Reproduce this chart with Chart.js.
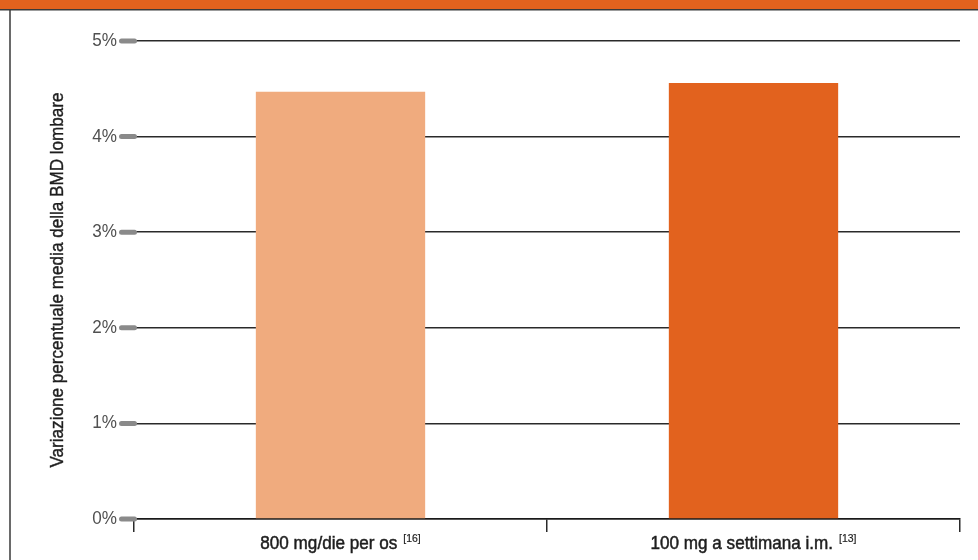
<!DOCTYPE html>
<html lang="it">
<head>
<meta charset="utf-8">
<title>Variazione percentuale media della BMD lombare</title>
<script src="https://cdn.jsdelivr.net/npm/chart.js@4.4.1/dist/chart.umd.min.js"></script>
<style>
  html, body { margin: 0; padding: 0; background: #ffffff; }
  #wrap { width: 978px; height: 560px; position: relative; }
</style>
</head>
<body>
<div id="wrap"><canvas id="bmd" width="978" height="560"></canvas></div>
<script>
// Dosing regimens on the x axis, with their bibliography references
const categories = ['800 mg/die per os', '100 mg a settimana i.m.'];
const references = ['[16]', '[13]'];
// Mean percent change of lumbar BMD
const bmdChange = [4.47, 4.56];
const barColors = ['#F0AB7E', '#E2621E'];
// Y axis range and step (percent)
const yMin = 0;
const yMax = 5;
const yStep = 1;
const yTitle = 'Variazione percentuale media della BMD lombare';

const FONT = '"Liberation Sans", Arial, sans-serif';
const NARROW = 0.95; // horizontal squeeze giving a condensed grotesque look

// Draw text squeezed horizontally (along its own direction); optional
// thin outline gives a medium weight
function narrowText(ctx, text, x, y, align, font, angle, weight) {
  ctx.save();
  ctx.font = font;
  ctx.translate(x, y);
  if (angle) ctx.rotate(angle);
  ctx.scale(NARROW, 1);
  const w = ctx.measureText(text).width;
  let dx = 0;
  if (align === 'center') dx = -w / 2;
  else if (align === 'right') dx = -w;
  ctx.textAlign = 'left';
  ctx.fillText(text, dx, 0);
  if (weight) {
    ctx.strokeStyle = ctx.fillStyle;
    ctx.lineWidth = weight;
    ctx.strokeText(text, dx, 0);
  }
  ctx.restore();
  return w * NARROW;
}

// Orange header band and the thin frame on the left
const framePlugin = {
  id: 'frame',
  beforeDraw(chart) {
    const ctx = chart.ctx;
    ctx.save();
    ctx.fillStyle = '#E2621E';
    ctx.fillRect(0, 0, chart.width, 9);
    ctx.strokeStyle = '#3a3a3a';
    ctx.lineWidth = 1.5;
    ctx.beginPath();
    ctx.moveTo(0, 9.75);
    ctx.lineTo(chart.width, 9.75);
    ctx.moveTo(10, 9);
    ctx.lineTo(10, chart.height);
    ctx.stroke();
    ctx.restore();
  }
};

// Y tick marks and labels, axis title, category labels with superscript references
const axisDecorPlugin = {
  id: 'axisDecor',
  afterDraw(chart) {
    const ctx = chart.ctx;
    const y = chart.scales.y;
    const x = chart.scales.x;
    ctx.save();
    ctx.textBaseline = 'middle';
    y.ticks.forEach((t, i) => {
      const py = y.getPixelForTick(i);
      ctx.strokeStyle = '#8a8a8a';
      ctx.lineWidth = 5;
      ctx.lineCap = 'round';
      ctx.beginPath();
      ctx.moveTo(121.5, py);
      ctx.lineTo(134.5, py);
      ctx.stroke();
      ctx.fillStyle = '#505050';
      narrowText(ctx, t.value + '%', 117, py, 'right', '18px ' + FONT);
    });

    // rotated y axis title, centred on the plot height
    ctx.fillStyle = '#1e1e1e';
    ctx.textBaseline = 'alphabetic';
    narrowText(ctx, yTitle, 63, (chart.chartArea.top + chart.chartArea.bottom) / 2,
      'center', '18px ' + FONT, -Math.PI / 2, 0.4);

    const mainFont = '18px ' + FONT;
    const supFont = '11px ' + FONT;
    const baseY = x.top + 29.5;
    categories.forEach((label, i) => {
      const cx = x.getPixelForValue(i);
      ctx.font = mainFont;
      const wMain = ctx.measureText(label).width * NARROW + 6;
      ctx.font = supFont;
      const wSup = ctx.measureText(references[i]).width * NARROW;
      const start = cx - (wMain + wSup) / 2;
      narrowText(ctx, label, start, baseY, 'left', mainFont, 0, 0.5);
      narrowText(ctx, references[i], start + wMain, baseY - 7, 'left', supFont, 0, 0.2);
    });
    ctx.restore();
  }
};

new Chart(document.getElementById('bmd'), {
  type: 'bar',
  data: {
    labels: categories,
    datasets: [{
      data: bmdChange,
      backgroundColor: barColors,
      borderWidth: 0,
      categoryPercentage: 1,
      barPercentage: 0.41
    }]
  },
  options: {
    responsive: false,
    animation: false,
    devicePixelRatio: 1,
    layout: { padding: { left: 0, top: 41, right: 18, bottom: 0 } },
    plugins: {
      legend: { display: false },
      tooltip: { enabled: false }
    },
    scales: {
      x: {
        offset: true,
        grid: {
          offset: true,
          drawOnChartArea: false,
          drawTicks: true,
          tickLength: 13,
          color: '#2a2a2a',
          lineWidth: 1.5
        },
        border: { display: true, color: '#1a1a1a', width: 1.5 },
        ticks: { display: false },
        afterFit(scale) { scale.height = 41; }
      },
      y: {
        min: yMin,
        max: yMax,
        grid: {
          drawTicks: false,
          color: '#2a2a2a',
          lineWidth: 1.5
        },
        border: { display: false },
        ticks: { display: false, stepSize: yStep },
        title: { display: false },
        afterFit(scale) { scale.width = 134; }
      }
    }
  },
  plugins: [framePlugin, axisDecorPlugin]
});
</script>
</body>
</html>
